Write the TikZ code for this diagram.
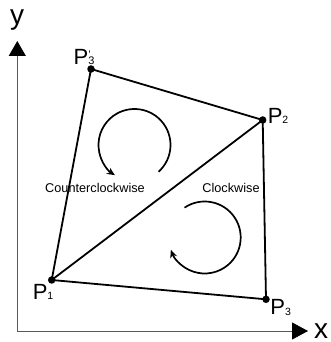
\documentclass[tikz,border=0pt]{standalone}
\usepackage{fontspec}
\setmainfont{Liberation Sans}
\usetikzlibrary{arrows.meta}

\begin{document}
\begin{tikzpicture}[x=1pt,y=1pt,
    vtx/.style={circle,fill=black,inner sep=0pt,minimum size=7.5pt},
    plbl/.style={inner sep=0pt,anchor=base west,font=\fontsize{22}{22}\selectfont},
    axlbl/.style={inner sep=0pt,anchor=base,font=\fontsize{28}{28}\selectfont},
    side/.style={line width=1.8pt},
    rot/.style={line width=1.7pt,-{Stealth[length=8pt,width=7pt]}},
    rotlbl/.style={inner sep=0pt,anchor=base,font=\fontsize{12.7}{13}\selectfont}]
\useasboundingbox (0,0) rectangle (330,342);
% axes
\coordinate (o) at (17.3,11);
\coordinate (ytip) at (17.3,301);
\coordinate (xtip) at (308,11);
\draw[gray!70!black,line width=0.8pt,-{Triangle[length=15pt,width=17pt,color=black]}] (o) -- (ytip);
\draw[gray!70!black,line width=0.8pt,-{Triangle[length=16pt,width=17pt,color=black]}] (o) -- (xtip);
\node[axlbl] (ylbl) at (17,317) {y};
\node[axlbl] (xlbl) at (321,4) {x};
% vertices
\node[vtx] (p1) at (51.7,62) {};
\node[vtx] (p2) at (262.7,222) {};
\node[vtx] (p3) at (266,42.7) {};
\node[vtx] (p3p) at (91,273) {};
\draw[side] (p1.center) -- (p3p.center) -- (p2.center) -- (p3.center) -- (p1.center) -- (p2.center);
\node[plbl] (p1lbl) at (32.6,42) {P{\fontsize{10.5}{11}\selectfont 1}};
\node[plbl] (p2lbl) at (267.6,218) {P{\fontsize{10.5}{11}\selectfont 2}};
\node[plbl] (p3lbl) at (270.2,27.7) {P{\fontsize{10.5}{11}\selectfont\raisebox{-1.5pt}{3}}};
\node[plbl] (p3plbl) at (73.5,277) {P{\fontsize{11}{11}\selectfont\rlap{\raisebox{6pt}{'}}3}};
% rotation arrows
\coordinate (ccw) at (134.5,197);
\coordinate (cw) at (204.7,104.5);
\draw[rot] (ccw) ++(-48:36pt) arc[start angle=-48,end angle=237,radius=36pt];
\draw[rot] (cw) ++(124:36pt) arc[start angle=124,end angle=-160,radius=36pt];
\node[rotlbl] (ccwlbl) at (95,149.3) {Counterclockwise};
\node[rotlbl] (cwlbl) at (231,149.3) {Clockwise};
\end{tikzpicture}
\end{document}
